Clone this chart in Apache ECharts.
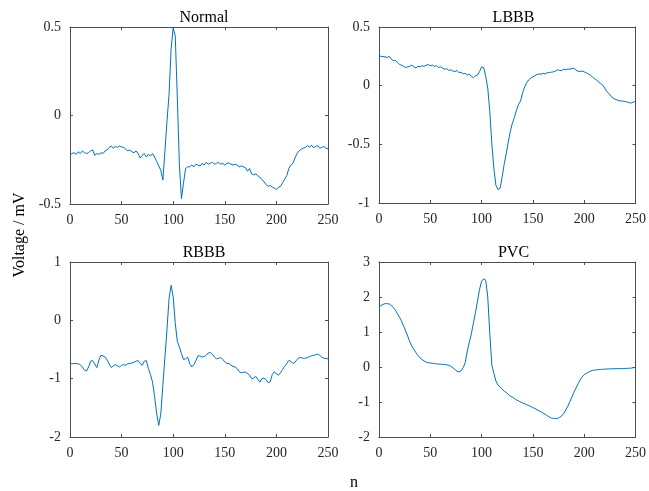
<!DOCTYPE html>
<html>
<head>
<meta charset="utf-8">
<script src="https://cdn.jsdelivr.net/npm/echarts@6/dist/echarts.min.js"></script>
<style>
  html, body { margin: 0; padding: 0; background: #fff; }
  #main { width: 649px; height: 491px; }
</style>
</head>
<body>
<div id="main"></div>
<script>
// sample index n, step 2 (0..250)
var step = 2;
var titles = ['Normal', 'LBBB', 'RBBB', 'PVC'];

var normal = [
  -0.22,-0.215,-0.21,-0.22,-0.205,-0.215,-0.2,-0.21,-0.215,-0.21,
  -0.2,-0.195,-0.225,-0.215,-0.22,-0.21,-0.215,-0.2,-0.195,-0.18,
  -0.172,-0.185,-0.175,-0.18,-0.172,-0.178,-0.18,-0.19,-0.2,-0.195,
  -0.205,-0.21,-0.2,-0.215,-0.24,-0.225,-0.215,-0.235,-0.22,-0.228,
  -0.215,-0.235,-0.26,-0.285,-0.31,-0.365,-0.2,-0.03,0.12,0.38,
  0.495,0.45,0.1,-0.28,-0.47,-0.38,-0.3,-0.29,-0.29,-0.28,
  -0.29,-0.275,-0.28,-0.285,-0.27,-0.28,-0.265,-0.275,-0.27,-0.265,
  -0.275,-0.27,-0.265,-0.275,-0.27,-0.28,-0.27,-0.268,-0.275,-0.28,
  -0.275,-0.28,-0.29,-0.285,-0.29,-0.295,-0.315,-0.3,-0.33,-0.335,
  -0.33,-0.34,-0.35,-0.36,-0.375,-0.39,-0.4,-0.395,-0.405,-0.41,
  -0.418,-0.405,-0.4,-0.38,-0.36,-0.34,-0.3,-0.28,-0.27,-0.24,
  -0.215,-0.2,-0.19,-0.185,-0.18,-0.17,-0.178,-0.168,-0.182,-0.175,
  -0.17,-0.185,-0.18,-0.175,-0.185,-0.188
];

var lbbb = [
  0.255,0.25,0.248,0.245,0.24,0.25,0.225,0.215,0.215,0.2,
  0.18,0.175,0.165,0.155,0.16,0.165,0.175,0.16,0.15,0.165,
  0.16,0.17,0.165,0.175,0.18,0.17,0.175,0.165,0.17,0.155,
  0.16,0.15,0.14,0.145,0.13,0.135,0.125,0.12,0.13,0.11,
  0.115,0.1,0.105,0.09,0.1,0.08,0.068,0.085,0.09,0.12,
  0.16,0.155,0.08,-0.02,-0.22,-0.5,-0.71,-0.85,-0.885,-0.875,
  -0.78,-0.67,-0.58,-0.48,-0.39,-0.32,-0.27,-0.21,-0.16,-0.13,
  -0.06,-0.01,0.025,0.05,0.065,0.075,0.085,0.095,0.1,0.098,
  0.105,0.1,0.11,0.112,0.115,0.118,0.125,0.135,0.13,0.128,
  0.14,0.135,0.142,0.14,0.145,0.15,0.13,0.125,0.12,0.125,
  0.118,0.11,0.1,0.09,0.075,0.06,0.05,0.03,0.02,0.005,
  -0.02,-0.05,-0.065,-0.09,-0.105,-0.115,-0.122,-0.128,-0.13,-0.133,
  -0.135,-0.14,-0.145,-0.148,-0.14,-0.135
];

var rbbb = [
  -0.74,-0.745,-0.74,-0.742,-0.745,-0.76,-0.8,-0.85,-0.87,-0.8,
  -0.7,-0.69,-0.75,-0.81,-0.68,-0.6,-0.61,-0.63,-0.68,-0.75,
  -0.81,-0.78,-0.76,-0.78,-0.8,-0.77,-0.76,-0.77,-0.745,-0.74,
  -0.73,-0.72,-0.7,-0.69,-0.74,-0.77,-0.7,-0.69,-0.83,-0.93,
  -1.06,-1.31,-1.6,-1.8,-1.6,-1.1,-0.63,-0.15,0.38,0.6,
  0.4,-0.05,-0.36,-0.46,-0.57,-0.67,-0.66,-0.63,-0.74,-0.8,
  -0.76,-0.69,-0.61,-0.61,-0.63,-0.62,-0.6,-0.56,-0.55,-0.58,
  -0.63,-0.66,-0.65,-0.64,-0.67,-0.71,-0.74,-0.74,-0.77,-0.79,
  -0.8,-0.83,-0.88,-0.9,-0.89,-0.89,-0.91,-0.94,-1.0,-0.99,
  -0.96,-1.01,-1.06,-1.0,-0.99,-1.02,-1.07,-1.05,-0.93,-0.88,
  -0.92,-0.94,-0.9,-0.84,-0.79,-0.74,-0.69,-0.7,-0.74,-0.72,
  -0.67,-0.64,-0.64,-0.65,-0.65,-0.64,-0.62,-0.61,-0.6,-0.59,
  -0.58,-0.6,-0.63,-0.65,-0.655,-0.66
];

var pvc = [
  1.71,1.76,1.79,1.81,1.81,1.8,1.76,1.7,1.62,1.52,
  1.42,1.31,1.17,1.03,0.88,0.72,0.6,0.5,0.41,0.33,
  0.26,0.21,0.17,0.14,0.12,0.115,0.105,0.1,0.09,0.085,
  0.08,0.075,0.07,0.065,0.05,0.02,-0.02,-0.07,-0.12,-0.14,
  -0.11,-0.02,0.12,0.45,0.7,0.95,1.25,1.55,1.88,2.22,
  2.45,2.52,2.48,2.0,0.95,0.05,-0.19,-0.4,-0.52,-0.57,
  -0.63,-0.69,-0.73,-0.78,-0.83,-0.86,-0.9,-0.94,-0.97,-1.0,
  -1.03,-1.05,-1.08,-1.1,-1.13,-1.16,-1.19,-1.22,-1.25,-1.28,
  -1.32,-1.35,-1.39,-1.43,-1.46,-1.47,-1.475,-1.47,-1.44,-1.4,
  -1.33,-1.23,-1.12,-0.99,-0.86,-0.72,-0.6,-0.48,-0.37,-0.28,
  -0.22,-0.18,-0.15,-0.12,-0.1,-0.09,-0.08,-0.075,-0.07,-0.065,
  -0.06,-0.06,-0.055,-0.055,-0.05,-0.05,-0.05,-0.045,-0.05,-0.045,
  -0.04,-0.04,-0.035,-0.03,-0.02,-0.01
];

var yMin = [-0.5, -1, -2, -2];
var yMax = [0.5, 0.5, 1, 3];
var yStep = [0.5, 0.5, 1, 1];
var xTicks = [0, 250, 50];

var allData = [normal, lbbb, rbbb, pvc];

var grids = [
  { left: 70, top: 27, width: 258, height: 177 },
  { left: 379, top: 27, width: 259, height: 176 },
  { left: 70, top: 262, width: 258, height: 175 },
  { left: 379, top: 262, width: 259, height: 175 }
];

var font = '"Liberation Serif", "Times New Roman", serif';
var axisColor = '#4d4d4d';
var textColor = '#262626';

function xAx(i, pos) {
  return {
    type: 'value', gridIndex: i, position: pos,
    min: xTicks[0], max: xTicks[1], interval: xTicks[2],
    axisLine: { show: true, onZero: false, lineStyle: { color: axisColor, width: 1 } },
    axisTick: { show: true, inside: true, length: 3, lineStyle: { color: axisColor } },
    axisLabel: { show: pos === 'bottom', color: textColor, fontFamily: font, fontSize: 14, margin: 9 },
    splitLine: { show: false }
  };
}
function yAx(i, pos) {
  return {
    type: 'value', gridIndex: i, position: pos,
    min: yMin[i], max: yMax[i], interval: yStep[i],
    axisLine: { show: true, onZero: false, lineStyle: { color: axisColor, width: 1 } },
    axisTick: { show: true, inside: true, length: 3, lineStyle: { color: axisColor } },
    axisLabel: { show: pos === 'left', color: textColor, fontFamily: font, fontSize: 14, margin: 9 },
    splitLine: { show: false }
  };
}

var xAxes = [], yAxes = [], series = [], titleList = [];
for (var i = 0; i < 4; i++) { xAxes.push(xAx(i, 'bottom')); yAxes.push(yAx(i, 'left')); }
for (var i = 0; i < 4; i++) { xAxes.push(xAx(i, 'top')); yAxes.push(yAx(i, 'right')); }

for (var i = 0; i < 4; i++) {
  var pts = allData[i].map(function (v, k) { return [k * step, v]; });
  series.push({
    type: 'line', xAxisIndex: i, yAxisIndex: i,
    data: pts, showSymbol: false, symbol: 'none', clip: false,
    lineStyle: { color: '#0072BD', width: 1 },
    animation: false
  });
  var g = grids[i];
  titleList.push({
    text: titles[i],
    left: g.left + g.width / 2, top: g.top - 22, textAlign: 'center',
    textStyle: { fontFamily: font, fontSize: 16, fontWeight: 'normal', color: '#000' }
  });
}

var myChart = echarts.init(document.getElementById('main'));
var option = {
  backgroundColor: '#fff',
  animation: false,
  title: titleList,
  grid: grids,
  xAxis: xAxes,
  yAxis: yAxes,
  series: series,
  graphic: [
    {
      type: 'text', x: 20, y: 235, rotation: Math.PI / 2,
      style: { text: 'Voltage / mV', fontFamily: font, fontSize: 16, fill: '#000', align: 'center', verticalAlign: 'middle' }
    },
    {
      type: 'text', x: 354, y: 483,
      style: { text: 'n', fontFamily: font, fontSize: 16, fill: '#000', align: 'center', verticalAlign: 'middle' }
    }
  ]
};
myChart.setOption(option);
</script>
</body>
</html>
